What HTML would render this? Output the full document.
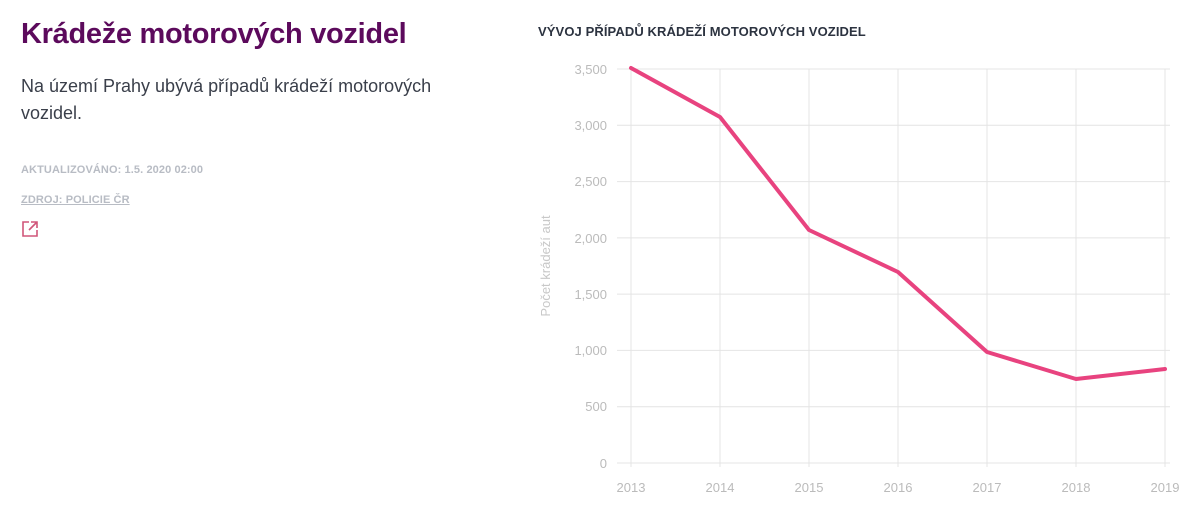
<!DOCTYPE html><html><head><meta charset="utf-8"><style>
body{margin:0;width:1200px;height:509px;background:#fff;font-family:"Liberation Sans","DejaVu Sans",sans-serif;position:relative;overflow:hidden}
h1{position:absolute;left:21px;top:18px;margin:0;font-size:29px;font-weight:bold;color:#5c0a5c;letter-spacing:-0.3px}
.p{position:absolute;left:21px;top:73px;font-size:18px;line-height:27px;color:#3a3f4a;width:440px}
.m{position:absolute;left:21px;font-size:11px;font-weight:bold;color:#b8bcc4;letter-spacing:0.1px}
.t{position:absolute;left:538px;top:24px;font-size:13px;font-weight:bold;color:#2c3340;letter-spacing:0.1px}
</style></head><body>
<h1>Krádeže motorových vozidel</h1>
<div class="p">Na území Prahy ubývá případů krádeží motorových vozidel.</div>
<div class="m" style="top:164px">AKTUALIZOVÁNO: 1.5. 2020 02:00</div>
<div class="m" style="top:194px;text-decoration:underline">ZDROJ: POLICIE ČR</div>
<svg style="position:absolute;left:21px;top:220px" width="18" height="18" viewBox="0 0 18 18" fill="none" stroke="#d0567a" stroke-width="1.6"><path d="M8 2H2v14h14v-6"/><path d="M10 2h6v6M16 2L8 10"/></svg>
<div class="t">VÝVOJ PŘÍPADŮ KRÁDEŽÍ MOTOROVÝCH VOZIDEL</div>
<svg style="position:absolute;left:0;top:0" width="1200" height="509" font-family="Liberation Sans, sans-serif" font-size="13" fill="#bbb">
<g stroke="#e4e4e4" stroke-width="1">
<line x1="617" x2="1170" y1="69" y2="69"/><line x1="617" x2="1170" y1="125.3" y2="125.3"/><line x1="617" x2="1170" y1="181.6" y2="181.6"/><line x1="617" x2="1170" y1="237.9" y2="237.9"/><line x1="617" x2="1170" y1="294.1" y2="294.1"/><line x1="617" x2="1170" y1="350.4" y2="350.4"/><line x1="617" x2="1170" y1="406.7" y2="406.7"/><line x1="617" x2="1170" y1="463" y2="463"/>
<line x1="631" x2="631" y1="69" y2="467"/><line x1="720" x2="720" y1="69" y2="467"/><line x1="809" x2="809" y1="69" y2="467"/><line x1="898" x2="898" y1="69" y2="467"/><line x1="987" x2="987" y1="69" y2="467"/><line x1="1076" x2="1076" y1="69" y2="467"/><line x1="1165" x2="1165" y1="69" y2="467"/>
</g>
<g text-anchor="end"><text x="607" y="74">3,500</text><text x="607" y="130">3,000</text><text x="607" y="186">2,500</text><text x="607" y="243">2,000</text><text x="607" y="299">1,500</text><text x="607" y="355">1,000</text><text x="607" y="411">500</text><text x="607" y="468">0</text></g>
<g text-anchor="middle"><text x="631" y="492">2013</text><text x="720" y="492">2014</text><text x="809" y="492">2015</text><text x="898" y="492">2016</text><text x="987" y="492">2017</text><text x="1076" y="492">2018</text><text x="1165" y="492">2019</text></g>
<text transform="translate(550,266) rotate(-90)" text-anchor="middle" fill="#c8c8c8">Počet krádeží aut</text>
<polyline fill="none" stroke="#e8437f" stroke-width="4" stroke-linejoin="round" stroke-linecap="round" points="631,68 720,117 809,230 898,272 987,352 1076,379 1165,369"/>
</svg>
</body></html>
